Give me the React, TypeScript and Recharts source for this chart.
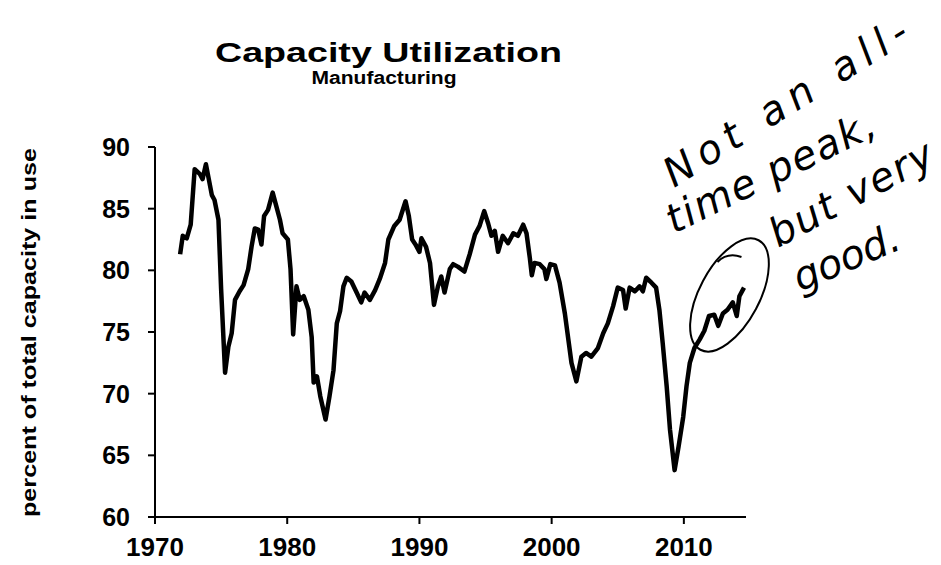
import { LineChart, Line, XAxis, YAxis, ReferenceDot } from "recharts";

// manufacturing capacity utilization (decimal years)
const years = [
  1971.9, 1972.1, 1972.4, 1972.7, 1973.0, 1973.2, 1973.4, 1973.6, 1973.85, 1974.05,
  1974.3, 1974.5, 1974.8, 1975.0, 1975.3, 1975.55, 1975.8, 1976.05, 1976.4, 1976.7,
  1977.05, 1977.3, 1977.55, 1977.8, 1978.05, 1978.25, 1978.55, 1978.9, 1979.2, 1979.45,
  1979.65, 1980.05, 1980.25, 1980.45, 1980.7, 1980.95, 1981.25, 1981.6, 1981.85, 1982.0,
  1982.25, 1982.5, 1982.9, 1983.2, 1983.5, 1983.75, 1984.0, 1984.25, 1984.5, 1984.85,
  1985.25, 1985.6, 1985.85, 1986.25, 1986.65, 1987.0, 1987.4, 1987.65, 1988.1, 1988.5,
  1988.95, 1989.2, 1989.45, 1989.7, 1990.0, 1990.15, 1990.5, 1990.8, 1991.1, 1991.4,
  1991.65, 1991.9, 1992.3, 1992.55, 1992.9, 1993.4, 1993.8, 1994.2, 1994.55, 1994.9,
  1995.2, 1995.45, 1995.7, 1995.95, 1996.3, 1996.7, 1997.1, 1997.45, 1997.85, 1998.1,
  1998.35, 1998.5, 1998.7, 1999.1, 1999.45, 1999.6, 1999.9, 2000.25, 2000.6, 2001.0,
  2001.5, 2001.87, 2002.25, 2002.6, 2003.0, 2003.5, 2003.9, 2004.25, 2004.65, 2005.0,
  2005.4, 2005.6, 2005.9, 2006.3, 2006.65, 2006.9, 2007.15, 2007.55, 2007.9, 2008.15,
  2008.4, 2008.7, 2008.95, 2009.3, 2009.6, 2009.95, 2010.2, 2010.45, 2010.8, 2011.2,
  2011.55, 2011.9, 2012.3, 2012.6, 2012.95, 2013.3, 2013.7, 2014.0, 2014.2, 2014.55,
];
const utilization = [
  81.3, 82.8, 82.6, 83.7, 88.2, 88.0, 87.8, 87.4, 88.6, 87.5,
  86.1, 85.7, 84.1, 78.5, 71.7, 73.8, 74.9, 77.6, 78.3, 78.8,
  80.1, 81.9, 83.4, 83.3, 82.1, 84.4, 84.9, 86.3, 85.1, 84.1,
  83.0, 82.5, 80.1, 74.8, 78.7, 77.6, 77.9, 76.8, 74.6, 70.9,
  71.4, 69.8, 67.9, 69.8, 71.9, 75.7, 76.7, 78.7, 79.4, 79.1,
  78.2, 77.4, 78.2, 77.6, 78.4, 79.3, 80.6, 82.5, 83.6, 84.1,
  85.6, 84.4, 82.5, 82.1, 81.5, 82.6, 81.9, 80.6, 77.2, 78.7,
  79.5, 78.2, 80.1, 80.5, 80.3, 79.9, 81.3, 82.9, 83.6, 84.8,
  83.8, 82.8, 83.2, 81.5, 82.8, 82.2, 83.0, 82.8, 83.7, 83.0,
  81.0, 79.6, 80.6, 80.5, 80.1, 79.3, 80.5, 80.4, 79.0, 76.5,
  72.5, 71.0, 73.0, 73.3, 73.0, 73.7, 74.9, 75.7, 77.1, 78.6,
  78.4, 76.9, 78.6, 78.3, 78.7, 78.3, 79.4, 79.0, 78.6, 76.8,
  74.1, 70.6, 67.1, 63.8, 65.7, 68.1, 70.6, 72.5, 73.7, 74.4,
  75.1, 76.3, 76.4, 75.5, 76.5, 76.8, 77.4, 76.3, 77.9, 78.6,
];
const xTicks = [1970, 1980, 1990, 2000, 2010];
const yTicks = [60, 65, 70, 75, 80, 85, 90];
const noteLines = ["Not an all-", "time peak,", "but very", "good."];

const chartData = years.map((year, i) => ({ year, value: utilization[i] }));

const font = "'Liberation Sans', Arial, sans-serif";
const hand = "'DejaVu Sans', sans-serif";

// hand-drawn loop around the latest readings
const Loop = (props: any) => {
  const { cx, cy } = props;
  return (
    <g>
      <ellipse
        cx={cx}
        cy={cy}
        rx={62}
        ry={30}
        transform={`rotate(-62 ${cx} ${cy})`}
        fill="none"
        stroke="#000"
        strokeWidth={2}
      />
      <path
        d={`M ${cx - 12} ${cy - 33} Q ${cx - 2} ${cy - 43} ${cx + 12} ${cy - 38}`}
        fill="none"
        stroke="#000"
        strokeWidth={2}
      />
    </g>
  );
};

const notePos = [
  { x: 674, y: 188, rot: -32, len: 280 },
  { x: 674, y: 234, rot: -26, len: 228 },
  { x: 778, y: 248, rot: -28, len: 180 },
  { x: 800, y: 292, rot: -23, len: 112 },
];

export default function App() {
  return (
    <div
      style={{
        position: "absolute",
        left: 0,
        top: 0,
        width: 941,
        height: 565,
        background: "#fff",
        overflow: "hidden",
      }}
    >
      <LineChart
        width={941}
        height={565}
        data={chartData}
        margin={{ top: 147, right: 195, bottom: 8, left: 0 }}
      >
        <XAxis
          dataKey="year"
          type="number"
          domain={[1970, 2014.7]}
          ticks={xTicks}
          allowDataOverflow
          height={40}
          tickSize={7}
          tickMargin={14}
          axisLine={{ stroke: "#000", strokeWidth: 2 }}
          tickLine={{ stroke: "#000", strokeWidth: 2 }}
          tick={{ fill: "#000", fontSize: 26, fontWeight: 700, fontFamily: font }}
        />
        <YAxis
          type="number"
          domain={[60, 90]}
          ticks={yTicks}
          width={155}
          tickSize={7}
          tickMargin={18}
          axisLine={{ stroke: "#000", strokeWidth: 2 }}
          tickLine={{ stroke: "#000", strokeWidth: 2 }}
          tick={{ fill: "#000", fontSize: 25, fontWeight: 700, fontFamily: font }}
        />
        <Line
          type="linear"
          dataKey="value"
          stroke="#000"
          strokeWidth={4.5}
          strokeLinejoin="round"
          dot={false}
          isAnimationActive={false}
        />
        <ReferenceDot x={2013.45} y={78} r={1} shape={Loop} />
      </LineChart>
      <svg
        width={941}
        height={565}
        style={{ position: "absolute", left: 0, top: 0, pointerEvents: "none" }}
      >
        <text
          x={388.5}
          y={62}
          textAnchor="middle"
          fontFamily={font}
          fontWeight={700}
          fontSize={28}
          textLength={347}
          lengthAdjust="spacingAndGlyphs"
        >
          Capacity Utilization
        </text>
        <text
          x={384}
          y={84}
          textAnchor="middle"
          fontFamily={font}
          fontWeight={700}
          fontSize={17.5}
          textLength={145}
          lengthAdjust="spacingAndGlyphs"
        >
          Manufacturing
        </text>
        <text
          x={36}
          y={332.5}
          transform="rotate(-90 36 332.5)"
          textAnchor="middle"
          fontFamily={font}
          fontWeight={700}
          fontSize={19.5}
          textLength={369}
          lengthAdjust="spacingAndGlyphs"
        >
          percent of total capacity in use
        </text>
        {noteLines.map((t, i) => (
          <text
            key={t}
            x={notePos[i].x}
            y={notePos[i].y}
            transform={`rotate(${notePos[i].rot} ${notePos[i].x} ${notePos[i].y})`}
            fontFamily={hand}
            fontStyle="italic"
            fontWeight={200}
            fontSize={40}
            textLength={notePos[i].len}
            lengthAdjust="spacing"
          >
            {t}
          </text>
        ))}
      </svg>
    </div>
  );
}
